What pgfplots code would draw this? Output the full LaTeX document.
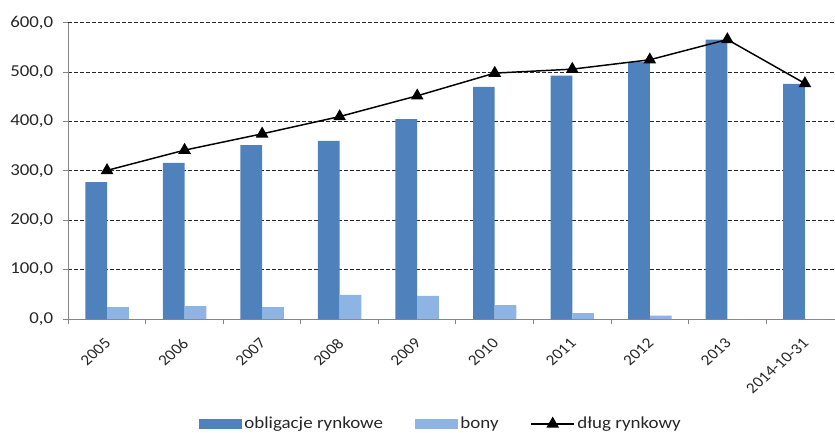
\documentclass[border=0pt]{standalone}
\usepackage{pgfplots}
\pgfplotsset{compat=1.18}
\usepackage{fontspec}
\setmainfont{Carlito}[FakeStretch=1.13]
\newfontfamily\plainfont{Carlito}

\definecolor{obl}{HTML}{4F81BD}
\definecolor{bony}{HTML}{8DB4E2}
\definecolor{axisgray}{HTML}{868686}
\definecolor{txt}{HTML}{262626}

\pgfplotsset{
  barleg/.style={legend image code/.code={\fill[##1] (0pt,-3.75pt) rectangle (32pt,3.75pt);}},
  lineleg/.style={legend image code/.code={\draw[mark repeat=2,mark phase=2,##1] plot coordinates {(0pt,0pt)(16pt,0pt)(32pt,0pt)};}},
}

\begin{document}
\begin{tikzpicture}
\begin{axis}[
  at={(0,0)}, anchor=south west,
  scale only axis, width=581.5pt, height=222.2pt,
  ybar, bar width=0.28,
  xmin=-0.5, xmax=9.5, ymin=0, ymax=600,
  enlargelimits=false,
  axis lines*=left,
  axis line style={axisgray, line width=0.75pt},
  xtick={0,...,9},
  xticklabels={2005,2006,2007,2008,2009,2010,2011,2012,2013,2014-10-31},
  minor xtick={-0.5,0.5,...,9.5},
  ytick={0,100,...,600},
  yticklabels={{0,0},{100,0},{200,0},{300,0},{400,0},{500,0},{600,0}},
  tick align=outside,
  major tick length=3.75pt, minor tick length=3.75pt,
  major x tick style={draw=none},
  minor x tick style={axisgray, line width=0.75pt},
  ytick style={axisgray, line width=0.75pt},
  ymajorgrids,
  major grid style={dash pattern=on 3pt off 1.5pt, black!85, line width=0.75pt},
  ticklabel style={font=\fontsize{12.5}{14}\selectfont, text=txt},
  yticklabel style={xshift=-4pt},
  xticklabel style={font=\plainfont\fontsize{11.25}{13}\selectfont,
    inner sep=0pt, anchor=north east, xshift=-2.4pt, yshift=-10pt,
    xscale=1.15, rotate=45, transform shape},
  clip=false,
  legend style={at={(axis description cs:0.481,-0.354)}, anchor=center,
    draw=none, fill=none, legend columns=3,
    font=\fontsize{12.6}{14}\selectfont, text=txt,
    /tikz/every even column/.append style={column sep=22pt}},
  legend cell align=left,
]
% obligacje rynkowe
\addplot[fill=obl, draw=none, bar shift=-0.14, barleg] coordinates {
  (0,277) (1,316) (2,352) (3,361) (4,405) (5,470) (6,493) (7,520) (8,566) (9,476)};
% bony
\addplot[fill=bony, draw=none, bar shift=0.14, barleg] coordinates {
  (0,24) (1,26) (2,24) (3,49) (4,47) (5,28) (6,12) (7,7) (8,0) (9,0)};
% dlug rynkowy
\addplot[sharp plot, black, line width=1.1pt, mark=triangle*, mark size=4.4pt,
  mark options={solid}, lineleg] coordinates {
  (0,301) (1,342) (2,375) (3,410) (4,452) (5,498) (6,506) (7,525) (8,566) (9,477)};
\legend{obligacje rynkowe, bony, dług rynkowy}
\end{axis}
\pgfresetboundingbox
\useasboundingbox (-51.2pt,-84.75pt) rectangle (575pt,239.25pt);
\end{tikzpicture}
\end{document}
